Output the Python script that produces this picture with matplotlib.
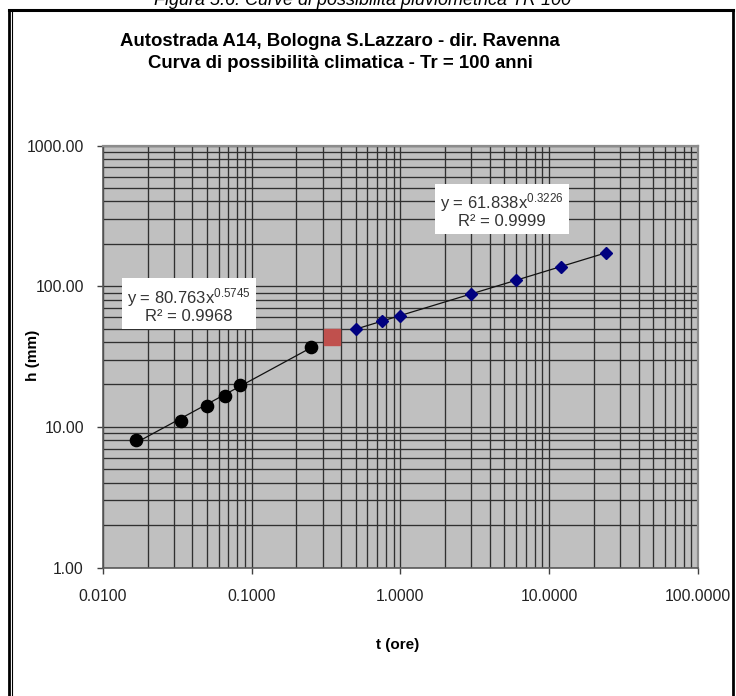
import numpy as np
import matplotlib
matplotlib.use("Agg")
import matplotlib.pyplot as plt
from matplotlib.ticker import LogLocator, FormatStrFormatter, NullFormatter
from matplotlib.lines import Line2D

plt.rcParams['font.family'] = ['Liberation Sans', 'DejaVu Sans']
plt.rcParams['mathtext.fontset'] = 'custom'
plt.rcParams['mathtext.rm'] = 'Liberation Sans'
plt.rcParams['mathtext.default'] = 'regular'

# Short durations (hours) and rainfall depths (mm)
t_short = [1/60, 2/60, 3/60, 4/60, 5/60, 0.25]
h_short = [8.0, 11.0, 14.0, 16.7, 19.9, 36.9]

# Intermediate point
t_mid = [0.35]
h_mid = [43.7]

# Long durations (hours) and rainfall depths (mm)
t_long = [0.5, 0.75, 1.0, 3.0, 6.0, 12.0, 24.0]
h_long = [49.5, 56.5, 61.8, 88.2, 110.2, 137.8, 172.4]

# Power-law fits h = a * t^n  (a, n, R^2)
fit_short = (80.763, 0.5745, 0.9968)
fit_long = (61.838, 0.3226, 0.9999)

x_ticks = [0.01, 0.1, 1, 10, 100]
y_ticks = [1, 10, 100, 1000]

W, H = 736, 696
fig = plt.figure(figsize=(W / 100, H / 100), dpi=100)
fig.patch.set_facecolor('white')

ax = fig.add_axes([102.7 / W, 1 - 567.5 / H, (698 - 102.7) / W, (567.5 - 145.5) / H])
ax.set_facecolor('#c0c0c0')
ax.set_xscale('log')
ax.set_yscale('log')
ax.set_xlim(0.01, 100)
ax.set_ylim(1, 1000)

# grid on every decade and sub-decade line
for axis in (ax.xaxis, ax.yaxis):
    axis.set_minor_locator(LogLocator(base=10, subs=np.arange(2, 10)))
    axis.set_minor_formatter(NullFormatter())
ax.set_xticks(x_ticks)
ax.set_yticks(y_ticks)
ax.xaxis.set_major_formatter(FormatStrFormatter('%.4f'))
ax.yaxis.set_major_formatter(FormatStrFormatter('%.2f'))
ax.grid(which='both', color='#303030', linewidth=0.95)
ax.set_axisbelow(True)
ax.tick_params(which='major', direction='out', length=4, width=1, color='#404040',
               labelsize=11.3, labelcolor='#222222')
ax.tick_params(axis='x', which='major', pad=11.5)
ax.tick_params(axis='y', which='major', pad=9.5)
ax.tick_params(which='minor', length=0)
for side in ('top', 'right'):
    ax.spines[side].set_color('#8c8c8c')
    ax.spines[side].set_linewidth(1.6)
for side in ('left', 'bottom'):
    ax.spines[side].set_color('#5a5a5a')
    ax.spines[side].set_linewidth(1.2)

# trend curves
def power_curve(fit, t0, t1):
    a, n, _ = fit
    tt = np.geomspace(t0, t1, 100)
    return tt, a * tt ** n

tt, hh = power_curve(fit_short, t_short[0], t_short[-1])
ax.plot(tt, hh, color='#111111', linewidth=0.9, zorder=3)
tt, hh = power_curve(fit_long, t_long[0], t_long[-1])
ax.plot(tt, hh, color='#111111', linewidth=0.9, zorder=3)

# data points
ax.plot(t_short, h_short, 'o', color='black', markersize=8.8, zorder=4)
ax.plot(t_mid, h_mid, 's', color='#c0504d', markersize=11.5, zorder=4)
ax.plot(t_long, h_long, 'D', color='#000080', markersize=6.5, zorder=4)

# equation labels
def eq_label(fit):
    a, n, r2 = fit
    return f"y = {a:.3f}x$^{{{n:.4f}}}$\nR\u00b2 = {r2:.4f}"

box = dict(boxstyle='square,pad=0.3', facecolor='white', edgecolor='none')
ax.text(0.145, 0.623, eq_label(fit_short), transform=ax.transAxes, ha='center', va='center',
        multialignment='center', fontsize=12, color='#333333', bbox=box, zorder=5,
        linespacing=1.0)
ax.text(0.671, 0.846, eq_label(fit_long), transform=ax.transAxes, ha='center', va='center',
        multialignment='center', fontsize=12, color='#333333', bbox=box, zorder=5,
        linespacing=1.0)

# titles and axis labels
fig.text(340 / W, 1 - 41 / H, 'Autostrada A14, Bologna S.Lazzaro - dir. Ravenna',
         ha='center', va='center', fontsize=13.4, fontweight='bold')
fig.text(340 / W, 1 - 63 / H, 'Curva di possibilità climatica - Tr = 100 anni',
         ha='center', va='center', fontsize=13.4, fontweight='bold')
fig.text(33 / W, 1 - 355 / H, 'h (mm)', rotation=90, ha='center', va='center',
         fontsize=11, fontweight='bold')
fig.text(398 / W, 1 - 645 / H, 't (ore)', ha='center', va='center',
         fontsize=11, fontweight='bold')

# caption above the frame
fig.text(362 / W, 1 - 5 / H, 'Figura 5.6: Curve di possibilità pluviometrica TR 100',
         ha='center', va='baseline', fontsize=13, style='italic')

# frame around the chart
def fline(x0, y0, x1, y1, lw):
    fig.add_artist(Line2D([x0 / W, x1 / W], [1 - y0 / H, 1 - y1 / H],
                          color='black', linewidth=lw, transform=fig.transFigure))

fline(8.5, 9.5, 732.5, 9.5, 2.2)
fline(8.5, 9.5, 8.5, H + 5, 2.0)
fline(732.5, 9.5, 732.5, H + 5, 2.0)
fline(11.8, 11, 11.8, H + 5, 0.8)

fig.savefig('out.png', dpi=100)
